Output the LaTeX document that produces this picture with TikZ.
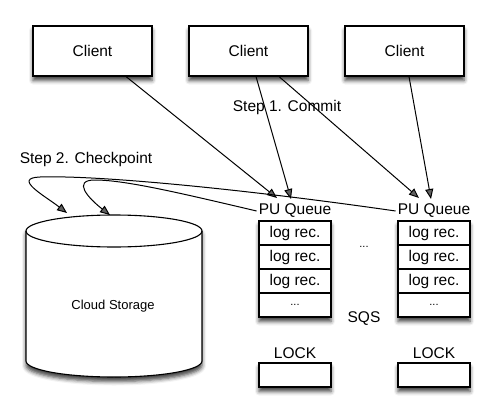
\documentclass[tikz,border=0pt]{standalone}
\usepackage{fontspec}
\setmainfont{Liberation Sans}
\usetikzlibrary{shadows.blur,arrows.meta}
\begin{document}
\begin{tikzpicture}[x=1pt,y=-1pt,
  shad/.style={blur shadow={shadow xshift=0pt,shadow yshift=-4.5pt,shadow blur radius=4pt,shadow opacity=75}},
  box/.style={draw,line width=1.1pt,fill=white,inner sep=0pt},
  txt/.style={font=\fontsize{15.5}{18}\selectfont,inner sep=0pt},
  row/.style={box,minimum width=72pt,minimum height=24pt,font=\fontsize{15.5}{18}\selectfont},
  arr/.style={draw,line width=1pt,-{Triangle[length=10pt,width=8pt]}}
]
\useasboundingbox (0,0) rectangle (503,420);
% clients
\foreach \n/\x in {c1/92.5,c2/248.5,c3/404.5}{
  \node[box,shad,minimum width=119pt,minimum height=50pt,font=\fontsize{15.5}{18}\selectfont] (\n) at (\x,51) {Client};
}
% cylinder
\path[draw,line width=1.1pt,fill=white,shad]
  (26,231) -- (26,361) arc[start angle=180,end angle=360,x radius=88pt,y radius=16pt]
  -- (202,231) arc[start angle=0,end angle=180,x radius=88pt,y radius=16pt] -- cycle;
\draw[line width=1.1pt] (26,231) arc[start angle=180,end angle=360,x radius=88pt,y radius=16pt];
\node[font=\fontsize{13}{15}\selectfont] (cs) at (113,306) {Cloud Storage};
% queues
\foreach \q/\x in {1/295,2/434}{
  \node[box,shad,minimum width=72pt,minimum height=96pt] (col\q) at (\x,269) {};
  \node[row] (r\q a) at (\x,233) {log rec.};
  \node[row] (r\q b) at (\x,257) {log rec.};
  \node[row] (r\q c) at (\x,281) {log rec.};
  \node[row,font=\fontsize{11}{13}\selectfont] (r\q d) at (\x,305) {...};
  \node[txt] (pu\q) at (\x,211) {PU Queue};
  \node[txt] (lk\q) at (\x,353) {LOCK};
  \node[box,shad,minimum width=72pt,minimum height=24pt] (lb\q) at (\x,375) {};
}
\node[font=\fontsize{11}{13}\selectfont] (dots) at (364,247) {...};
\node[txt] (sqs) at (364,319) {SQS};
\node[txt] (s1) at (287,107) {Step 1. Commit};
\node[txt] (s2) at (86,159) {Step 2. Checkpoint};
% arrow tips
\coordinate (t1a) at (277,198);
\coordinate (t1b) at (291,199);
\coordinate (t2a) at (419,198);
\coordinate (t2b) at (431,199);
\coordinate (k1) at (67,213);
\coordinate (k2) at (110,215);
\path[arr] ([xshift=33.5pt]c1.south) -- (t1a);
\path[arr] ([xshift=7.5pt]c2.south) -- (t1b);
\path[arr] ([xshift=30.5pt]c2.south) -- (t2a);
\path[arr] ([xshift=4.5pt]c3.south) -- (t2b);
% checkpoint hooks
\path[arr] ([xshift=-2pt]pu2.west) .. controls (250,190) and (100,175) .. (40,177)
  .. controls (12,178) and (45,196) .. (k1);
\path[arr] ([xshift=-2pt]pu1.west) .. controls (180,193) and (125,180) .. (95,180)
  .. controls (72,180) and (88,198) .. (k2);
\end{tikzpicture}
\end{document}
